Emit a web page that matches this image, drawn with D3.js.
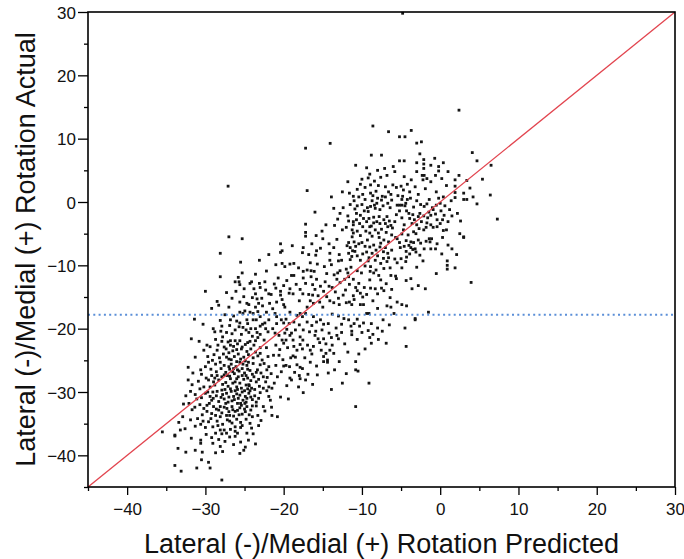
<!DOCTYPE html>
<html><head><meta charset="utf-8">
<script src="https://cdn.jsdelivr.net/npm/d3@7"></script>
<style>html,body{margin:0;padding:0;background:#fff;}svg{display:block;}</style>
</head><body>
<svg id="chart" width="684" height="559"></svg>
<script>
const xTitle = "Lateral (-)/Medial (+) Rotation Predicted";
const yTitle = "Lateral (-)/Medial (+) Rotation Actual";
const xDomain = [-45, 30];
const yDomain = [-45, 30];
const xMajor = [-40,-30,-20,-10,0,10,20,30];
const xMinor = [-45,-35,-25,-15,-5,5,15,25];
const yMajor = [-40,-30,-20,-10,0,10,20,30];
const yMinor = [-45,-35,-25,-15,-5,5,15,25];
const refLineY = -17.8;
const identity = [[-45,-45],[30,30]];
// [predicted, actual]
const points = [
[-4.8,29.8],[-27.1,2.5],[-27.0,-5.5],[-25.3,-5.8],[-28.1,-8.1],[-25.5,-9.5],[-9.1,-28.6],
[-8.6,12.0],[-6.6,11.1],[-14.06,9.26],[-17.2,8.5],[-8.8,7.4],[-7.5,7.4],[-10.8,5.8],[-7.1,5.3],[-9.0,4.4],[-10.2,2.8],[-8.9,2.7],[-8.4,3.3],
[-17.0,1.8],[-11.6,1.4],[-11.1,0.9],[-9.9,1.2],[-8.9,1.4],[-8.2,1.7],[-7.4,0.9],[-6.6,1.6],[-8.1,-0.2],[-7.5,0.3],[-6.7,-0.2],[-12.4,-0.9],
[-10.9,-1.1],[-10.7,-1.8],[-10.2,-2.1],[-9.7,-1.4],[-9.2,-1.5],[-8.9,-0.7],[-8.3,-1.0],[-7.8,-2.3],[-8.5,-2.4],[-6.8,-2.3],[-13.1,-2.7],[-13.5,-3.7],
[-17.2,-3.5],[-17.2,-4.8],[-17.2,-5.4],[-11.1,-3.1],[-11.1,-3.6],[-11.25,-4.4],[-11.1,-4.9],[-11.25,-5.5],[-11.0,-6.3],[-10.3,-3.4],[-9.9,-3.9],
[-9.4,-3.1],[-9.0,-3.9],[-8.5,-3.3],[-8.3,-4.4],[-9.0,-4.9],[-7.9,-4.9],[-7.7,-3.4],[-7.2,-6.0],[-7.0,-3.4],[-6.7,-3.9],[-15.85,-5.3],[-15.1,-4.6],
[-15.0,-5.8],[-20.4,-6.6],[-20.4,-7.95],[-20.2,-7.7],[-17.5,-7.2],[-17.6,-8.0],[-16.8,-8.3],[-15.9,-8.4],[-15.3,-7.3],[-15.8,-7.7],[-14.2,-6.6],
[-14.1,-8.1],[-13.6,-7.2],[-12.9,-8.3],[-14.1,-9.2],[-13.0,-9.3],[-21.0,-9.9],[-20.2,-9.7],[-19.85,-10.2],[-18.7,-9.7],
[-11.7,-6.4],[-11.5,-7.2],[-11.2,-7.7],[-11.7,-8.1],[-10.8,-7.0],[-10.6,-8.5],[-11.5,-9.1],[-10.2,-9.2],
[-10.0,-6.4],[-9.3,-6.0],[-9.0,-7.1],[-9.4,-7.9],[-8.7,-8.1],[-8.2,-7.6],[-7.7,-7.1],[-7.25,-7.85],[-7.25,-8.9],[-6.7,-8.1],[-6.6,-6.3],[-8.3,-9.2],
[-8.9,-10.2],[-7.6,-9.7],[-6.8,-9.4],
[2.4,14.5],[-3.7,11.3],[-5.2,10.3],[-4.5,10.3],[-3.0,9.3],[-2.4,9.5],[4.1,7.8],[4.7,6.5],[6.5,5.8],[-5.2,6.5],[-4.6,6.5],[-3.0,6.2],[-2.1,6.7],
[-2.1,6.0],[-2.1,5.3],[-0.7,6.9],[-0.2,5.6],[-0.2,4.9],[0.4,6.2],[-3.0,4.8],[-5.8,4.8],[-2.3,4.2],[-2.05,4.2],[-2.2,3.5],[-1.7,3.7],[-3.7,3.5],
[0.2,3.7],[1.9,3.5],[1.9,2.5],[1.9,1.5],[1.9,0.7],[3.4,3.4],[-6.05,2.7],[-5.6,2.3],[-5.0,2.5],[-4.7,1.9],[-3.9,1.6],[-1.9,2.1],[-0.5,1.6],[0.4,0.8],
[3.0,1.4],[3.0,0.4],[3.4,0.4],[6.4,1.1],[4.7,-0.3],[-5.5,-0.5],[-5.2,-0.5],[-4.9,-0.5],[-4.5,-0.6],[-4.9,0.4],[-4.2,0.4],[-4.3,-1.4],[-5.2,-1.4],
[-2.05,-0.7],[-1.7,-0.3],[-0.5,-0.5],[0.0,-0.2],[-2.6,-1.8],[-2.1,-2.2],[-1.45,-1.6],[-1.2,-2.1],[-0.6,-1.9],[0.1,-1.4],[0.5,-2.1],[-0.9,-1.2],
[-5.8,-3.1],[-4.9,-2.5],[-3.9,-2.6],[-3.3,-2.8],[-2.8,-2.3],[-1.7,-3.3],[-0.9,-4.0],[-0.4,-2.8],[0.0,-3.4],[0.4,-4.5],[0.8,-4.4],[-1.8,-4.0],
[-2.1,-4.4],[-2.7,-4.2],[-3.4,-4.7],[-3.1,-5.0],[-4.7,-4.4],[-4.9,-5.05],[-4.1,-5.2],[-3.6,-3.4],[-6.3,-3.7],[-6.1,-4.1],[-5.7,-5.6],[-5.5,-5.8],
[-1.4,-5.8],[-1.1,-5.8],[-1.3,-6.3],[0.3,-5.6],[3.0,-5.5],[3.0,-5.6],[7.3,-2.7],
[-4.35,-6.1],[-3.75,-6.3],[-3.4,-6.4],[-4.0,-6.85],[-3.75,-7.2],[-3.2,-7.4],[-3.1,-7.9],[-3.5,-7.5],[-2.8,-6.0],[-2.5,-6.5],[-2.05,-7.4],
[-5.1,-7.2],[-4.35,-7.8],[-4.3,-8.7],[-4.4,-9.4],[-5.0,-8.95],[-4.9,-10.4],[-2.2,-9.3],[-0.6,-7.4],[1.5,-7.4],[2.1,-8.3],[0.9,-9.3],[0.9,-10.0],
[0.9,-10.6],[1.9,-10.4],[-0.5,-11.3],[-5.7,-11.7],[-5.6,-12.1],[-6.3,-11.6],[-4.35,-12.4],[-3.75,-12.1],[-3.6,-13.7],[-2.8,-13.2],[-1.9,-13.7],
[3.95,-12.7],[-6.4,-15.1],[-4.9,-16.2],[-4.3,-16.4],[-1.5,-17.4],[-6.3,-16.6],[-3.2,-18.4],[-4.5,-19.9],[-4.35,-22.8],[-3.2,-18.6],
[-17.5,-10.95],[-17.0,-10.74],[-16.5,-10.85],[-16.1,-10.95],[-14.5,-11.3],[-13.55,-11.5],[-12.8,-10.85],[-11.8,-11.2],[-10.6,-10.85],[-10.06,-11.2],
[-8.95,-10.95],[-8.5,-11.2],[-8.2,-10.74],[-7.85,-11.6],[-21.2,-12.95],[-18.7,-11.6],
[-17.5,-12.0],[-17.2,-12.85],[-16.5,-11.8],[-16.3,-13.05],[-15.8,-12.2],[-15.3,-13.3],[-14.7,-12.6],[-13.8,-13.5],[-13.2,-12.2],[-12.8,-12.74],
[-12.1,-13.9],[-11.7,-11.8],[-11.1,-12.2],[-10.8,-13.5],[-10.4,-12.85],[-10.2,-14.4],[-9.7,-13.5],[-9.0,-12.3],[-8.3,-13.7],[-8.0,-14.5],[-7.2,-14.0],
[-6.8,-16.4],[-19.2,-13.7],[-18.8,-14.5],[-19.3,-14.4],[-20.4,-14.1],[-20.4,-14.7],[-20.2,-15.4],[-20.0,-16.2],[-20.9,-15.8],[-17.9,-13.8],
[-17.55,-14.5],[-16.8,-14.6],[-16.6,-15.6],[-16.3,-14.7],[-16.2,-16.0],[-15.4,-15.8],[-14.9,-14.1],[-14.5,-14.95],[-14.1,-15.6],[-13.4,-14.2],
[-13.0,-15.2],[-12.9,-16.2],[-12.4,-14.7],[-12.0,-15.9],[-11.6,-15.8],[-11.1,-14.8],[-11.3,-16.2],[-10.2,-16.2],[-9.8,-16.2],[-9.1,-17.6],[-7.5,-13.6],
[-21.1,-17.6],[-20.9,-18.1],[-20.3,-18.6],[-20.0,-19.1],[-19.7,-18.5],[-19.3,-19.2],[-18.7,-18.95],[-18.3,-17.9],[-17.9,-17.6],[-17.6,-18.1],
[-17.2,-17.6],[-17.0,-18.95],[-16.2,-18.1],[-15.8,-18.95],[-15.3,-18.6],[-14.9,-19.3],[-14.3,-19.2],[-13.8,-17.7],[-13.0,-18.0],[-12.3,-18.4],
[-11.7,-18.6],[-11.0,-19.2],[-10.6,-18.5],[-9.8,-19.1],[-9.4,-17.6],[-8.8,-19.2],[-7.4,-20.4],[-19.2,-17.4],[-19.85,-16.6],[-21.4,-16.85],
[-21.4,-20.0],[-21.1,-20.7],[-20.6,-21.06],[-20.2,-21.8],[-19.7,-21.8],[-19.2,-21.06],[-18.8,-21.8],[-18.7,-22.8],[-17.9,-21.3],[-17.55,-21.8],
[-17.6,-23.2],[-16.95,-22.6],[-16.6,-23.4],[-16.2,-22.8],[-15.4,-22.2],[-15.2,-23.4],[-14.9,-24.4],[-14.6,-23.9],[-14.4,-24.95],[-14.1,-23.4],
[-13.8,-22.6],[-13.2,-21.06],[-13.0,-21.6],[-14.9,-21.6],[-14.2,-20.7],[-16.0,-21.06],[-16.7,-20.5],[-17.5,-20.2],[-18.5,-20.2],[-19.0,-20.7],
[-19.85,-20.7],[-20.0,-22.3],[-21.3,-24.2],[-20.6,-24.2],[-18.8,-24.3],[-18.5,-24.5],[-18.3,-25.7],[-17.9,-26.1],[-17.6,-26.3],[-17.2,-28.1],
[-19.25,-26.0],[-19.7,-25.8],[-20.0,-25.9],[-20.8,-27.6],[-19.2,-27.8],[-19.0,-28.1],[-18.0,-27.4],[-17.9,-27.9],[-17.5,-30.1],[-16.6,-25.3],
[-14.9,-25.2],[-14.4,-25.3],[-12.9,-25.2],[-10.8,-25.2],[-10.4,-24.0],[-10.8,-26.5],[-10.5,-26.7],[-12.5,-28.6],[-19.4,-31.1],[-20.4,-30.8],
[-21.5,-29.4],[-21.55,-32.4],[-21.5,-33.7],[-20.8,-33.9],[-10.8,-32.3],[-6.9,-22.3],[-8.8,-22.3],[-9.2,-20.3],[-11.3,-20.95],[-11.3,-20.4],
[-28.1,-11.8],[-25.3,-11.2],[-30.0,-14.1],[-26.2,-12.6],[-25.7,-12.6],[-25.6,-13.05],[-24.3,-12.85],[-24.1,-12.6],[-23.1,-12.85],[-23.0,-13.5],
[-22.3,-13.9],[-23.8,-13.7],[-25.05,-13.7],[-26.1,-14.1],[-25.1,-14.95],[-25.6,-15.8],[-24.7,-16.0],[-24.45,-16.2],[-23.6,-14.5],[-23.4,-15.3],
[-23.2,-16.0],[-23.6,-16.6],[-22.7,-16.4],[-21.9,-14.5],[-21.8,-16.0],[-28.5,-15.7],[-28.3,-16.3],[-27.0,-16.6],
[-25.6,-17.4],[-25.2,-17.6],[-24.96,-17.2],[-24.3,-17.4],[-23.9,-17.6],[-23.3,-17.3],[-22.2,-17.4],[-21.9,-18.6],[-31.4,-18.5],
[-28.1,-18.7],[-26.8,-18.6],[-26.0,-18.8],[-25.6,-19.1],[-24.7,-18.6],[-23.9,-18.6],[-23.0,-18.1],[-22.4,-19.1],
[-29.0,-20.0],[-28.8,-20.5],[-28.03,-20.4],[-27.8,-21.3],[-26.6,-20.8],[-26.2,-20.2],[-25.7,-19.7],[-25.2,-19.8],[-24.8,-20.2],[-24.45,-20.6],
[-24.2,-20.0],[-23.6,-20.0],[-23.4,-20.6],[-23.0,-19.6],[-22.3,-20.0],[-22.0,-20.5],
[-26.8,-21.9],[-26.2,-21.9],[-25.9,-22.4],[-25.6,-21.9],[-24.9,-22.5],[-24.3,-22.0],[-23.6,-21.9],[-23.0,-23.0],[-22.5,-21.8],[-22.2,-23.0],
[-28.7,-21.7],[-27.9,-22.0],[-26.8,-22.6],[-27.35,-23.2],[-28.5,-23.4],[-29.4,-22.85],[-29.8,-22.6],[-30.2,-23.4],[-26.5,-23.5],[-26.0,-23.3],
[-25.4,-23.2],[-24.7,-23.6],[-24.2,-23.2],[-23.6,-23.7],[-23.0,-23.9],[-22.75,-24.95],[-31.3,-24.5],
[-32.2,-26.1],[-30.6,-26.5],[-30.5,-27.2],[-29.6,-25.3],[-29.1,-25.0],[-28.7,-25.6],[-28.1,-25.3],[-27.6,-25.8],[-27.0,-24.8],[-26.7,-25.6],
[-26.4,-26.3],[-26.1,-26.0],[-25.6,-25.3],[-25.3,-26.3],[-24.7,-25.8],[-24.3,-26.6],[-23.9,-25.5],[-23.35,-26.5],[-23.0,-25.7],[-22.6,-27.6],
[-22.15,-26.5],[-22.1,-27.7],[-21.9,-26.0],
[-32.2,-28.1],[-31.7,-28.85],[-30.7,-29.5],[-30.2,-29.2],[-29.6,-28.1],[-28.96,-28.4],[-28.5,-27.4],[-28.3,-28.1],[-27.9,-27.6],[-27.4,-28.5],
[-27.2,-27.4],[-26.8,-27.9],[-26.5,-28.6],[-26.2,-28.4],[-25.8,-27.6],[-25.6,-28.6],[-25.1,-28.0],[-24.8,-27.4],[-24.45,-28.85],[-24.1,-29.4],
[-23.8,-27.6],[-23.5,-28.4],[-23.1,-29.1],[-22.3,-28.4],[-21.9,-29.2],
[-32.5,-30.6],[-31.3,-30.4],[-30.0,-30.2],[-29.4,-30.7],[-29.05,-30.0],[-28.5,-29.9],[-28.0,-30.85],[-27.9,-29.7],[-27.3,-30.2],[-26.8,-29.5],
[-26.4,-30.7],[-26.2,-29.8],[-25.6,-30.5],[-25.3,-30.0],[-24.9,-30.7],[-24.45,-30.2],[-24.0,-31.2],[-23.5,-31.6],[-24.3,-29.8],[-23.0,-30.1],
[-22.15,-29.8],[-21.9,-30.7],
[-32.1,-31.8],[-31.7,-32.8],[-31.35,-32.4],[-30.7,-32.0],[-30.2,-32.6],[-29.8,-33.06],[-29.5,-31.8],[-28.96,-32.3],[-28.7,-33.7],[-28.3,-32.85],
[-27.9,-33.3],[-27.4,-31.8],[-27.25,-32.6],[-26.9,-33.7],[-26.6,-32.3],[-26.2,-33.06],[-25.9,-31.8],[-25.6,-32.5],[-25.3,-33.5],[-24.96,-31.8],
[-24.7,-32.3],[-24.2,-32.85],[-24.0,-33.9],[-23.5,-32.2],[-23.3,-33.7],[-22.6,-32.3],
[-31.9,-34.4],[-31.3,-35.4],[-30.6,-35.1],[-30.0,-35.6],[-29.6,-34.7],[-29.05,-35.5],[-28.7,-36.5],[-28.1,-36.0],[-27.9,-36.6],[-27.3,-36.5],
[-26.8,-35.9],[-26.2,-35.5],[-25.9,-36.5],[-25.3,-35.3],[-24.3,-34.95],[-24.1,-35.7],[-23.2,-35.3],[-24.7,-36.5],[-33.2,-36.0],[-33.9,-36.95],
[-35.5,-36.3],[-25.5,-37.9],
[-32.5,-39.5],[-31.3,-39.2],[-30.4,-39.5],[-30.6,-37.6],[-30.6,-38.1],[-29.05,-38.1],[-28.7,-39.6],[-28.1,-38.6],[-27.8,-39.4],[-26.9,-37.1],
[-26.2,-37.0],[-24.9,-38.7],[-25.1,-39.2],[-25.6,-39.7],[-30.5,-40.7],[-31.1,-42.0],[-29.6,-41.1],[-29.4,-42.0],[-33.9,-41.6],[-33.1,-42.5],
[-27.9,-43.9],[-33.9,-36.8],
// dense lower-left blob
[-28.4,-22.6],[-27.6,-22.9],[-27.1,-22.1],[-26.4,-22.8],[-25.3,-22.9],[-24.6,-22.2],[-23.8,-22.6],[-23.3,-21.4],
[-28.9,-24.1],[-28.2,-24.6],[-27.7,-24.0],[-27.0,-23.8],[-26.3,-24.4],[-25.8,-24.0],[-25.1,-24.5],[-24.5,-24.1],[-23.9,-24.6],[-23.3,-24.3],
[-29.3,-26.4],[-28.6,-26.8],[-28.0,-26.3],[-27.4,-26.9],[-26.9,-26.4],[-26.3,-27.1],[-25.7,-26.7],[-25.0,-27.0],[-24.6,-26.4],[-24.0,-27.2],[-23.5,-26.9],[-22.9,-27.0],
[-29.9,-27.8],[-29.2,-27.4],[-28.8,-28.9],[-27.8,-28.8],[-27.1,-29.1],[-26.0,-29.2],[-25.4,-29.4],[-24.8,-28.9],[-24.2,-28.2],[-23.7,-29.6],[-23.2,-28.0],[-22.6,-29.4],
[-30.5,-30.9],[-29.7,-30.0],[-29.2,-31.3],[-28.6,-30.6],[-28.3,-31.5],[-27.6,-31.1],[-27.0,-30.8],[-26.6,-31.4],[-26.0,-30.3],[-25.8,-31.0],[-25.2,-31.3],[-24.7,-31.0],[-24.2,-30.8],[-23.7,-30.6],[-23.2,-31.0],
[-30.4,-33.6],[-29.8,-32.1],[-29.2,-33.4],[-28.6,-32.7],[-28.1,-33.9],[-27.6,-32.4],[-27.0,-33.1],[-26.4,-33.8],[-25.9,-32.9],[-25.4,-32.1],[-24.9,-33.1],[-24.4,-33.6],
[-31.0,-34.2],[-30.3,-34.6],[-29.3,-34.2],[-28.5,-34.6],[-27.8,-35.1],[-27.2,-34.4],[-26.6,-34.9],[-26.0,-34.3],[-25.5,-34.8],[-24.8,-34.3],
[-29.9,-36.7],[-29.2,-37.2],[-28.3,-37.5],[-27.5,-37.8],[-26.4,-38.3],[-31.8,-37.3],[-32.6,-35.8],[-32.9,-33.9],[-33.4,-34.8],[-32.8,-31.9],[-33.5,-38.9],
[-31.9,-29.9],[-31.1,-31.1],[-30.9,-28.3],[-31.6,-27.0],[-30.0,-26.0],[-29.7,-24.4],[-30.8,-22.0],[-31.8,-21.6],
[-27.9,-19.6],[-27.3,-20.6],[-26.9,-19.5],[-25.4,-20.9],[-24.0,-21.2],[-23.0,-20.9],[-22.7,-19.3],[-26.4,-18.0],[-27.5,-17.8],[-24.6,-19.2],[-23.5,-18.6],
[-26.6,-15.2],[-27.3,-14.3],[-24.0,-15.1],[-22.8,-15.2],[-22.4,-12.6],[-25.8,-11.9],[-23.6,-11.4],[-29.2,-16.8],[-30.3,-19.3],
[-22.5,-25.5],[-22.0,-24.4],[-21.6,-27.1],[-21.2,-28.6],[-21.7,-31.3],[-22.4,-33.0],[-22.9,-34.5],[-23.9,-36.6],[-24.5,-37.6],[-23.6,-38.2],
// blob core
[-27.3,-24.5],[-26.7,-24.9],[-26.0,-25.2],[-25.5,-24.8],[-24.9,-25.1],[-27.0,-26.0],[-26.5,-26.8],[-25.9,-26.5],[-25.2,-25.6],[-24.5,-25.3],
[-27.6,-27.3],[-26.9,-27.5],[-26.0,-27.9],[-25.3,-27.4],[-24.6,-27.8],[-27.5,-29.6],[-26.7,-29.9],[-25.9,-29.6],[-25.0,-29.8],[-24.6,-29.5],
[-27.8,-30.4],[-27.1,-31.6],[-26.3,-31.2],[-25.5,-31.8],[-24.8,-31.6],[-28.1,-32.3],[-27.3,-33.7],[-26.5,-32.8],[-25.7,-33.6],[-25.0,-32.7],
[-28.4,-35.3],[-27.6,-36.0],[-26.9,-34.6],[-26.2,-36.2],[-25.5,-35.6],[-29.0,-31.0],[-28.8,-27.8],[-29.4,-29.2],[-24.0,-32.2],[-24.4,-29.0],
// lower band
[-21.0,-22.6],[-20.5,-23.3],[-20.1,-24.9],[-19.5,-23.0],[-19.1,-24.6],[-18.3,-23.4],[-17.9,-22.5],[-17.3,-24.6],[-16.4,-24.0],[-15.8,-25.9],[-15.6,-21.6],[-15.1,-20.2],[-14.6,-22.4],
[-13.6,-23.9],[-13.3,-19.9],[-12.6,-20.6],[-12.2,-22.4],[-11.8,-23.7],[-11.4,-19.6],[-10.6,-21.7],[-10.0,-20.6],[-9.6,-23.2],[-8.6,-20.9],[-7.9,-21.7],
[-21.0,-25.8],[-20.3,-26.8],[-19.6,-29.0],[-18.6,-26.9],[-18.1,-29.2],[-16.9,-27.2],[-16.3,-28.8],[-15.7,-27.3],[-14.3,-27.0],[-13.5,-26.5],[-12.0,-27.1],[-13.9,-29.6],
[-20.9,-19.2],[-19.6,-20.1],[-18.0,-19.4],[-16.4,-19.5],[-15.9,-20.4],[-13.9,-21.4],[-12.6,-19.3],[-10.3,-19.6],[-9.0,-21.4],[-8.0,-19.9],[-7.3,-18.6],[-6.5,-19.4],[-5.9,-17.6],[-5.5,-15.8],
// middle band
[-21.6,-14.6],[-21.0,-13.6],[-20.7,-12.0],[-20.0,-13.2],[-19.6,-12.4],[-19.0,-11.6],[-18.4,-13.0],[-18.0,-15.6],[-17.0,-16.6],[-16.0,-13.8],[-15.6,-14.8],[-15.0,-16.6],[-14.2,-13.3],[-13.6,-15.9],
[-13.1,-11.2],[-12.2,-12.2],[-11.6,-13.0],[-11.0,-15.4],[-10.6,-14.0],[-9.9,-15.0],[-9.4,-14.6],[-8.9,-13.6],[-8.6,-15.6],[-8.0,-16.8],[-7.6,-12.3],[-6.9,-12.9],[-6.2,-13.8],
[-19.2,-9.8],[-18.1,-10.4],[-16.6,-9.6],[-15.7,-9.8],[-14.8,-10.2],[-13.9,-9.9],[-12.6,-9.2],[-12.0,-10.6],[-11.4,-10.3],[-9.6,-10.1],[-9.2,-9.3],[-7.2,-10.5],[-6.4,-10.4],
[-22.2,-10.9],[-23.1,-9.2],[-21.9,-8.3],[-18.9,-6.9],[-16.4,-6.6],[-13.2,-5.9],[-12.5,-4.4],[-14.6,-3.6],[-16.0,-1.6],[-13.9,0.8],
// upper cluster
[-11.8,-2.2],[-11.5,-0.4],[-11.0,0.2],[-10.6,-0.6],[-10.4,0.8],[-10.0,-0.4],[-9.6,0.4],[-9.3,-0.9],[-8.7,0.2],[-8.4,-0.5],[-8.0,0.6],[-7.7,-1.2],[-7.3,-0.6],[-7.0,0.8],[-6.4,-0.9],[-6.2,0.3],
[-12.0,-4.0],[-11.7,-3.0],[-10.7,-2.8],[-10.6,-4.6],[-10.2,-5.3],[-9.8,-2.6],[-9.5,-4.6],[-9.1,-2.6],[-8.7,-5.4],[-8.8,-3.8],[-8.1,-3.1],[-7.8,-5.6],[-7.5,-4.3],[-7.2,-2.8],[-6.9,-4.8],[-6.5,-3.0],[-6.2,-5.2],
[-11.9,-6.9],[-11.3,-8.6],[-10.9,-7.8],[-10.4,-6.6],[-9.9,-8.2],[-9.6,-7.0],[-9.1,-8.8],[-8.5,-6.8],[-8.0,-8.5],[-7.6,-6.5],[-7.0,-7.2],[-6.6,-8.8],[-6.2,-7.6],[-5.8,-9.0],
[-10.6,2.0],[-10.0,3.6],[-9.6,2.3],[-9.2,3.8],[-8.6,1.0],[-7.9,2.6],[-7.6,3.9],[-7.0,2.4],[-6.8,4.2],[-6.3,1.2],[-9.4,5.4],[-8.0,5.0],[-6.0,5.6],[-11.8,3.2],[-12.5,1.6],[-12.8,-1.8],[-13.6,-1.0],
// right cluster
[-5.4,1.0],[-4.8,0.9],[-4.4,-0.2],[-3.8,0.6],[-3.4,-0.8],[-3.0,0.2],[-2.5,-0.4],[-2.8,1.2],[-1.4,0.4],[-1.0,-0.9],[-0.2,0.6],[0.6,-0.6],[1.2,-1.2],[1.4,0.2],
[-5.6,-2.0],[-4.6,-3.6],[-4.0,-1.8],[-3.5,-2.0],[-3.0,-3.6],[-2.4,-3.1],[-1.6,-2.5],[-1.2,-3.6],[-0.4,-3.9],[0.3,-2.8],[1.0,-3.1],[1.5,-2.2],[2.2,-1.8],[2.6,-3.0],
[-5.2,-6.4],[-4.6,-7.0],[-3.9,-8.2],[-2.6,-8.4],[-1.8,-6.2],[-1.2,-7.4],[-0.4,-6.6],[0.2,-8.2],[1.0,-6.8],[2.5,-5.0],[-5.5,-9.6],[-3.0,-10.3],
[-4.2,2.8],[-3.2,2.4],[-1.2,3.2],[-0.6,4.2],[0.8,2.6],[-4.6,4.0],[-2.6,7.6],[-1.2,5.8],[1.0,4.8],[2.4,4.2],[3.8,2.2],[4.2,0.8],[5.4,3.6]
];

const W = 684, H = 559;
const m = {left: 88, top: 12, right: 9, bottom: 72};
const svg = d3.select("#chart");
const x = d3.scaleLinear().domain(xDomain).range([m.left, W - m.right]);
const y = d3.scaleLinear().domain(yDomain).range([H - m.bottom, m.top]);
const font = "'Liberation Sans', Arial, Helvetica, sans-serif";

// points
svg.append("g").selectAll("rect").data(points).join("rect")
  .attr("x", d => x(d[0]) - 1.4).attr("y", d => y(d[1]) - 1.4)
  .attr("width", 2.8).attr("height", 2.8).attr("fill", "#151515");

// reference horizontal line
svg.append("line")
  .attr("x1", x(xDomain[0])).attr("x2", x(xDomain[1]))
  .attr("y1", y(refLineY)).attr("y2", y(refLineY))
  .attr("stroke", "#5b8fd8").attr("stroke-width", 2).attr("stroke-dasharray", "2,3.3");

// identity line
svg.append("path").datum(identity)
  .attr("d", d3.line().x(d => x(d[0])).y(d => y(d[1])))
  .attr("stroke", "#e2454f").attr("stroke-width", 1.3).attr("fill", "none");

// axes
const gx = svg.append("g").attr("transform", `translate(0,${H - m.bottom})`);
gx.call(d3.axisBottom(x).tickValues(xMajor).tickSize(8).tickPadding(4).tickFormat(d3.format("d")));
const gxm = svg.append("g").attr("transform", `translate(0,${H - m.bottom})`);
gxm.call(d3.axisBottom(x).tickValues(xMinor).tickSize(4).tickFormat(""));
const gy = svg.append("g").attr("transform", `translate(${m.left},0)`);
gy.call(d3.axisLeft(y).tickValues(yMajor).tickSize(10).tickPadding(2).tickFormat(d3.format("d")));
const gym = svg.append("g").attr("transform", `translate(${m.left},0)`);
gym.call(d3.axisLeft(y).tickValues(yMinor).tickSize(4).tickFormat(""));
svg.selectAll(".domain").remove();
svg.selectAll(".tick line").attr("stroke", "#000").attr("stroke-width", 1.3);
svg.selectAll(".tick text").attr("font-family", font).attr("font-size", 17).attr("fill", "#111");
gx.selectAll(".tick text").attr("dy", "0.95em");
gy.selectAll(".tick text").attr("dy", "0.36em");

// frame
svg.append("rect").attr("x", m.left).attr("y", m.top)
  .attr("width", W - m.left - m.right).attr("height", H - m.top - m.bottom)
  .attr("fill", "none").attr("stroke", "#000").attr("stroke-width", 1.6);

// titles
svg.append("text").attr("x", (m.left + W - m.right) / 2).attr("y", 553)
  .attr("text-anchor", "middle").attr("font-family", font).attr("font-size", 27).attr("fill", "#111")
  .text(xTitle);
svg.append("text").attr("transform", `translate(35,${(m.top + H - m.bottom) / 2}) rotate(-90)`)
  .attr("text-anchor", "middle").attr("font-family", font).attr("font-size", 27).attr("fill", "#111")
  .text(yTitle);
</script>
</body></html>
